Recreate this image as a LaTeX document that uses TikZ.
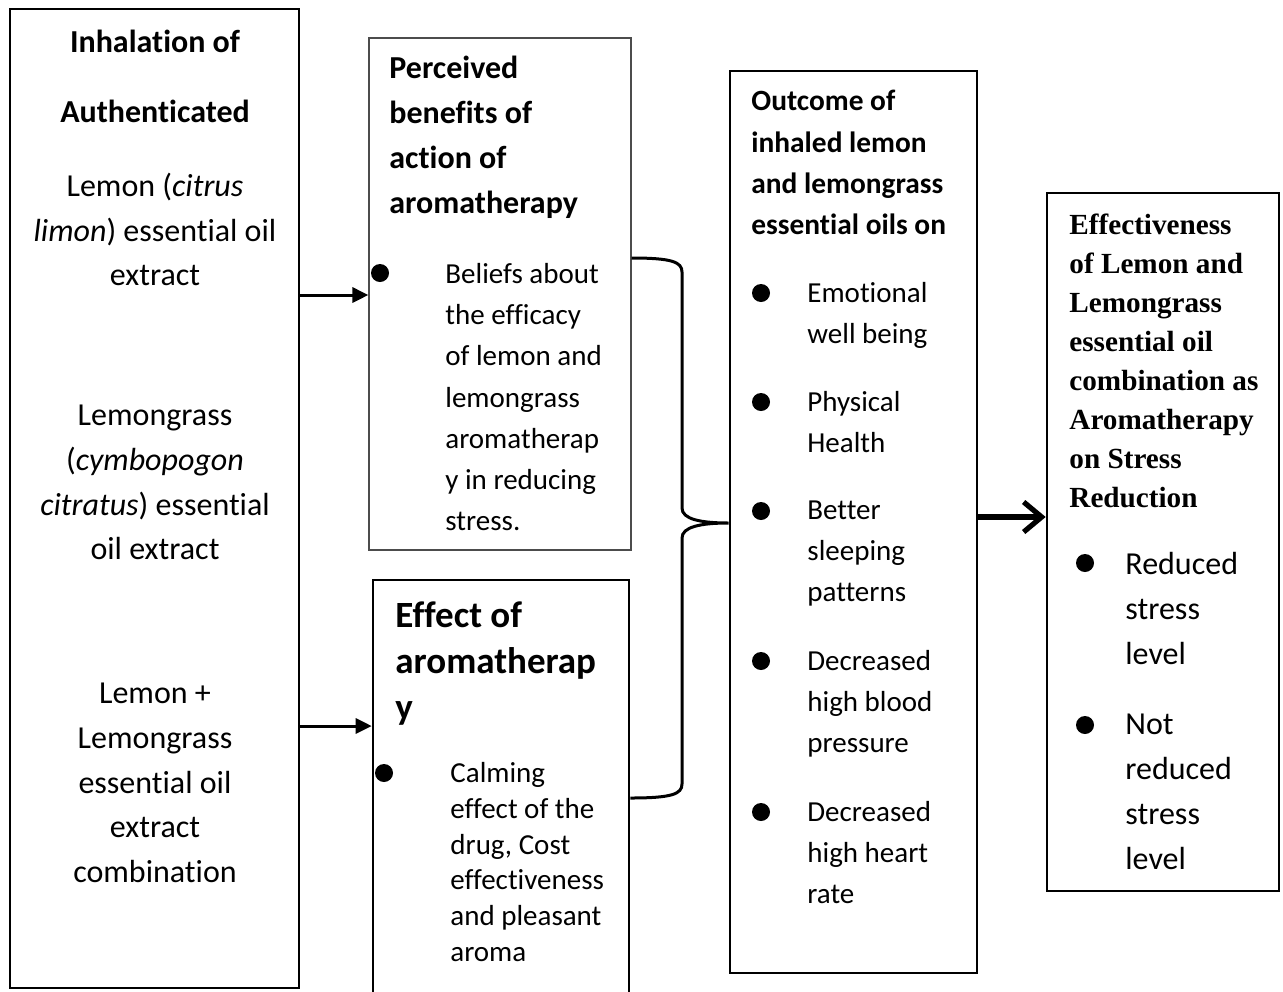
\documentclass[tikz,border=0pt]{standalone}
\usepackage{fontspec}
\setmainfont{Carlito}[RawFeature={-liga;-clig;-calt;-dlig}]
\newfontfamily\timesfont{Liberation Serif}
\usetikzlibrary{arrows.meta}
\usetikzlibrary{fit}

\begin{document}
\begin{tikzpicture}
[x=0.5pt,y=-0.5pt,%
  box/.style={draw,line width=1.3pt,inner sep=0pt},%
  lbl/.style={inner sep=0pt,anchor=north west,align=left},%
  dot/.style={circle,fill,inner sep=0pt,minimum size=9pt},%
  arr/.style={-{Triangle[length=8pt,width=7.5pt]},line width=1.5pt}]
\useasboundingbox (0,0) rectangle (1283,991);
% boxes
\node[box,fit={(10,9) (299,988)}] (inhal) {};
\node[box,draw=black!70,line width=0.6pt,fit={(369,38) (631,550)}] (percv) {};
\node[box,fit={(373,580) (629,1010)}] (effect) {};
\node[box,fit={(730,71) (977,973)}] (outc) {};
\node[box,fit={(1047,193) (1279,891)}] (result) {};
% inhalation
\node[lbl,anchor=north,align=center,font=\bfseries\fontsize{16}{35}\selectfont] (ttl1) at (155,30) {Inhalation of\\Authenticated};
\node[lbl,anchor=north,align=center,font=\fontsize{16}{22.3}\selectfont] (oil1) at (155,173) {Lemon (\textit{citrus}\\\textit{limon}) essential oil\\extract};
\node[lbl,anchor=north,align=center,font=\fontsize{16}{22.3}\selectfont] (oil2) at (155,405) {Lemongrass\\(\textit{cymbopogon}\\\textit{citratus}) essential\\oil extract};
\node[lbl,anchor=north,align=center,font=\fontsize{16}{22.3}\selectfont] (oil3) at (155,683) {Lemon +\\Lemongrass\\essential oil\\extract\\combination};
% perceived benefits
\node[lbl,font=\bfseries\fontsize{16}{22.5}\selectfont] (ttl2) at (389,56) {Perceived\\benefits of\\action of\\aromatherapy};
\node[dot] (pd) at (380,273) {};
\node[lbl,font=\fontsize{14.5}{20.6}\selectfont] (pt) at (445,263) {Beliefs about\\the efficacy\\of lemon and\\lemongrass\\aromatherap\\y in reducing\\stress.};
% effect
\node[lbl,font=\bfseries\fontsize{18.5}{23}\selectfont] (ttl3) at (395,601) {Effect of\\aromatherap\\y};
\node[dot] (ed) at (384,773) {};
\node[lbl,font=\fontsize{14.5}{17.9}\selectfont] (et) at (450,762) {Calming\\effect of the\\drug, Cost\\effectiveness\\and pleasant\\aroma};
% outcome
\node[lbl,font=\bfseries\fontsize{14.7}{20.65}\selectfont] (ttl4) at (751,90) {Outcome of\\inhaled lemon\\and lemongrass\\essential oils on};
\foreach \y/\t [count=\i] in {293/{Emotional\\well being},402/{Physical\\Health},511/{Better\\sleeping\\patterns},661/{Decreased\\high blood\\pressure},812/{Decreased\\high heart\\rate}}
{
  \node[dot] (od\i) at (761,\y) {};
  \node[lbl,font=\fontsize{14.5}{20.6}\selectfont] (ot\i) at (807,\y-11) {\t};
}
% effectiveness
\node[lbl,font=\timesfont\bfseries\fontsize{14.6}{19.45}\selectfont] (ttl5) at (1069,214) {Effectiveness\\of Lemon and\\Lemongrass\\essential oil\\combination as\\Aromatherapy\\on Stress\\Reduction};
\node[dot] (rd1) at (1085,563) {};
\node[lbl,font=\fontsize{16}{22.5}\selectfont] (rt1) at (1125,552) {Reduced\\stress\\level};
\node[dot] (rd2) at (1085,725) {};
\node[lbl,font=\fontsize{16}{22.5}\selectfont] (rt2) at (1125,714) {Not\\reduced\\stress\\level};
% arrows
\coordinate (a1) at (0,295);
\coordinate (a2) at (0,726);
\coordinate (a3) at (0,517);
\draw[arr] (inhal.east |- a1) -- (percv.west |- a1);
\draw[arr] (inhal.east |- a2) -- (effect.west |- a2);
\draw[line width=2.6pt,-{Straight Barb[length=9pt,width=15pt]}] (outc.east |- a3) -- (result.west |- a3);
% brace
\coordinate (b1) at (0,258);
\coordinate (b2) at (0,523);
\coordinate (b3) at (0,798);
\draw[line width=1.5pt] (percv.east |- b1) .. controls (672,258) and (682,262) .. (682,272) -- (682,508)
  .. controls (682,519) and (700,523) .. (outc.west |- b2)
  .. controls (700,523) and (682,527) .. (682,538) -- (682,784)
  .. controls (682,794) and (672,798) .. (effect.east |- b3);
\end{tikzpicture}
\end{document}
